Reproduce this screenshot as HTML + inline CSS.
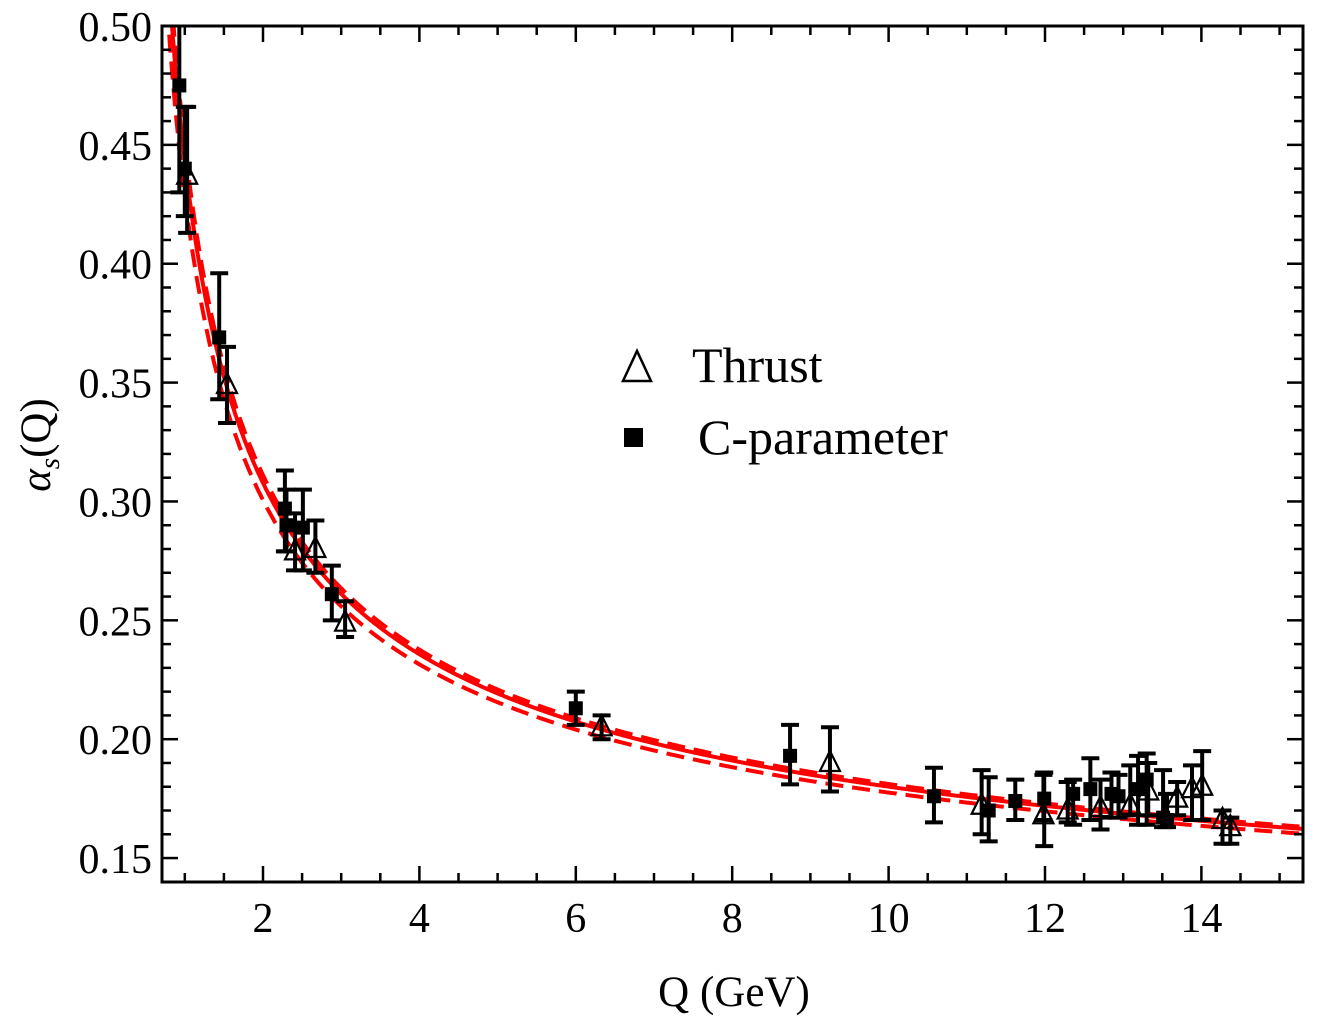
<!DOCTYPE html>
<html><head><meta charset="utf-8">
<style>
html,body{margin:0;padding:0;background:#fff;}
svg{display:block;}
text{font-family:"Liberation Serif",serif;fill:#000;}
</style></head>
<body>
<svg id="chart" width="1318" height="1029" viewBox="0 0 1318 1029" xmlns="http://www.w3.org/2000/svg">
<g id="curves"></g>
<g id="points"></g>
<g id="axes"></g>
<g>
  <g>
    <polygon points="623,381 637,351 651,381" fill="none" stroke="#000" stroke-width="2.5"/>
    <text x="692" y="382" font-size="50">Thrust</text>
  </g>
  <g>
    <rect x="624" y="428" width="19" height="19" fill="#000"/>
    <text x="698" y="454" font-size="50">C-parameter</text>
  </g>
</g>
<text x="734" y="1006" font-size="43" text-anchor="middle">Q (GeV)</text>
<text transform="translate(50,445) rotate(-90)" font-size="43" text-anchor="middle"><tspan font-style="italic">α</tspan><tspan font-style="italic" font-size="29" dy="9">s</tspan><tspan dy="-9">(Q)</tspan></text>
</svg>
<script>
// Data
const thrustQ   = [1.03, 1.54, 2.41, 2.67, 3.05, 6.33, 9.25, 11.19, 11.98, 12.29, 12.71, 13.09, 13.32, 13.69, 13.88, 14.01, 14.27, 14.37];
const thrustA   = [0.437, 0.349, 0.279, 0.280, 0.249, 0.205, 0.190, 0.172, 0.168, 0.170, 0.171, 0.172, 0.178, 0.175, 0.179, 0.180, 0.166, 0.163];
const thrustErrHi = [0.466, 0.365, 0.295, 0.292, 0.258, 0.210, 0.205, 0.187, 0.185, 0.182, 0.183, 0.189, 0.190, 0.182, 0.189, 0.195, 0.170, 0.167];
const thrustErrLo = [0.413, 0.333, 0.271, 0.270, 0.243, 0.200, 0.178, 0.160, 0.166, 0.165, 0.162, 0.168, 0.168, 0.168, 0.166, 0.166, 0.156, 0.156];
const cparQ   = [0.93, 1.00, 1.44, 2.28, 2.30, 2.51, 2.88, 6.00, 8.74, 10.58, 11.28, 11.62, 11.99, 12.36, 12.58, 12.85, 12.94, 13.19, 13.30, 13.51, 13.56];
const cparA   = [0.475, 0.440, 0.369, 0.297, 0.290, 0.289, 0.261, 0.213, 0.193, 0.176, 0.170, 0.174, 0.175, 0.177, 0.179, 0.177, 0.176, 0.179, 0.183, 0.167, 0.166];
const cparErrHi = [0.52, 0.466, 0.396, 0.313, 0.305, 0.305, 0.273, 0.220, 0.206, 0.188, 0.184, 0.183, 0.186, 0.183, 0.192, 0.186, 0.185, 0.193, 0.194, 0.187, 0.177];
const cparErrLo = [0.43, 0.420, 0.343, 0.279, 0.279, 0.271, 0.250, 0.206, 0.181, 0.165, 0.157, 0.166, 0.155, 0.164, 0.166, 0.167, 0.167, 0.164, 0.164, 0.163, 0.163];
const curveLambdas = [0.207, 0.212, 0.196];   // central, upper, lower
const xTicks = [2, 4, 6, 8, 10, 12, 14];
const yTicks = [0.15, 0.20, 0.25, 0.30, 0.35, 0.40, 0.45, 0.50];

const L = 162, R = 1303, T = 26, B = 882;
const xs = q => 106.6 + q * 78.2;
const ys = a => 26 + (0.50 - a) * 2377.3;
const NS = 'http://www.w3.org/2000/svg';
function mk(tag, attrs, parent) {
  const e = document.createElementNS(NS, tag);
  for (const k in attrs) e.setAttribute(k, attrs[k]);
  parent.appendChild(e);
  return e;
}
const svg = document.getElementById('chart');
const defs = mk('defs', {}, svg);
const cp = mk('clipPath', {id: 'plotclip'}, defs);
mk('rect', {x: L, y: T, width: R - L, height: B - T}, cp);

// curves
const curves = document.getElementById('curves');
curves.setAttribute('clip-path', 'url(#plotclip)');
function alpha(q, lam) { return 4 * Math.PI / (9 * Math.log(q * q / (lam * lam))); }
curveLambdas.forEach((lam, i) => {
  let d = '';
  for (let q = 0.8; q <= 15.5; q += 0.01) {
    d += (d ? 'L' : 'M') + xs(q).toFixed(1) + ',' + ys(alpha(q, lam)).toFixed(1);
  }
  const p = mk('path', {d: d, fill: 'none', stroke: '#ff0000', 'stroke-width': 4}, curves);
  if (i > 0) p.setAttribute('stroke-dasharray', '18,9');
  
  
});

// points
const pts = document.getElementById('points');
pts.setAttribute('clip-path', 'url(#plotclip)');
function errbar(x, hi, lo, g) {
  const yh = ys(hi), yl = ys(lo);
  mk('line', {x1: x, y1: yh, x2: x, y2: yl, stroke: '#000', 'stroke-width': 4}, g);
  mk('line', {x1: x - 9, y1: yh, x2: x + 9, y2: yh, stroke: '#000', 'stroke-width': 4}, g);
  mk('line', {x1: x - 9, y1: yl, x2: x + 9, y2: yl, stroke: '#000', 'stroke-width': 4}, g);
}
cparQ.forEach((q, i) => {
  const g = mk('g', {}, pts);
  
  
  const x = xs(q), y = ys(cparA[i]);
  errbar(x, cparErrHi[i], cparErrLo[i], g);
  mk('rect', {x: x - 7, y: y - 7, width: 14, height: 14, fill: '#000'}, g);
});
thrustQ.forEach((q, i) => {
  const g = mk('g', {}, pts);
  
  
  const x = xs(q), y = ys(thrustA[i]);
  errbar(x, thrustErrHi[i], thrustErrLo[i], g);
  mk('polygon', {points: `${x-10},${y+8} ${x},${y-12} ${x+10},${y+8}`, fill: 'none', stroke: '#000', 'stroke-width': 2.2}, g);
});

// axes
const ax = document.getElementById('axes');
mk('rect', {x: L, y: T, width: R - L, height: B - T, fill: 'none', stroke: '#000', 'stroke-width': 3}, ax);
for (let k = 2; k <= 30; k++) {
  const q = k * 0.5, x = xs(q);
  if (x <= L || x >= R) continue;
  const major = k % 4 === 0;
  const len = major ? 16 : 9;
  mk('line', {x1: x, y1: B, x2: x, y2: B - len, stroke: '#000', 'stroke-width': 2.5}, ax);
  mk('line', {x1: x, y1: T, x2: x, y2: T + len, stroke: '#000', 'stroke-width': 2.5}, ax);
}
for (let k = 14; k <= 50; k++) {
  const a = k / 100, y = ys(a);
  if (y <= T + 1 || y >= B) continue;
  const major = k % 5 === 0;
  const len = major ? 16 : 9;
  mk('line', {x1: L, y1: y, x2: L + len, y2: y, stroke: '#000', 'stroke-width': 2.5}, ax);
  mk('line', {x1: R, y1: y, x2: R - len, y2: y, stroke: '#000', 'stroke-width': 2.5}, ax);
}
xTicks.forEach(v => {
  const t = mk('text', {x: xs(v), y: 932, 'font-size': 42, 'text-anchor': 'middle'}, ax);
  t.textContent = String(v);
  
  
});
yTicks.forEach(v => {
  const t = mk('text', {x: 152, y: ys(v) + 15, 'font-size': 42, 'text-anchor': 'end'}, ax);
  t.textContent = v.toFixed(2);
  
  
});
</script>
</body></html>
